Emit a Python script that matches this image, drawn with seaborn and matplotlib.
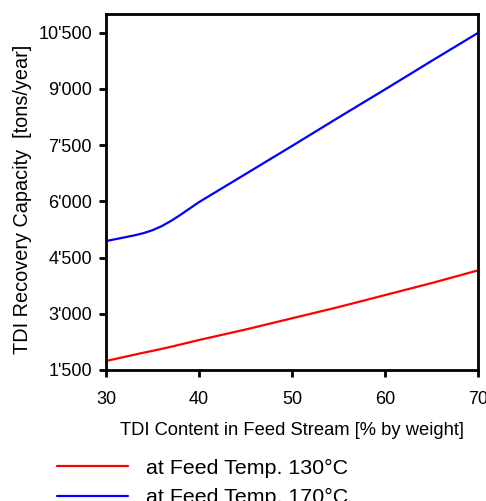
import matplotlib
matplotlib.use('Agg')
import matplotlib.pyplot as plt
from matplotlib.ticker import FuncFormatter
import pandas as pd
import seaborn as sns

# ── Datos ────────────────────────────────────────────────────────
tdi_pct   = [30, 31, 32, 33, 34, 35, 36, 37, 38, 39, 40,
             45, 50, 55, 60, 65, 70]
cap_130   = [1740, 1795, 1850, 1905, 1960, 2010, 2065, 2120, 2180, 2240, 2300,
             2580, 2880, 3180, 3500, 3820, 4160]
cap_170   = [4940, 4990, 5040, 5090, 5150, 5230, 5340, 5480, 5640, 5810, 5980,
             6730, 7480, 8240, 8990, 9750, 10500]
etiquetas = ["at Feed Temp. 130°C", "at Feed Temp. 170°C"]
y_ticks   = [1500, 3000, 4500, 6000, 7500, 9000, 10500]
x_ticks   = [30, 40, 50, 60, 70]

df = pd.concat([
    pd.DataFrame({"x": tdi_pct, "y": cap_130, "serie": etiquetas[0]}),
    pd.DataFrame({"x": tdi_pct, "y": cap_170, "serie": etiquetas[1]}),
])

sns.set_style("ticks")
plt.rcParams['font.family'] = ['Liberation Sans', 'DejaVu Sans']
plt.rcParams['text.color'] = 'black'
plt.rcParams['axes.labelcolor'] = 'black'

fig = plt.figure(figsize=(4.86, 5.01), dpi=100)
ax = fig.add_axes([0.218, 0.2615, 0.766, 0.7105])

sns.lineplot(data=df, x="x", y="y", hue="serie",
             palette={etiquetas[0]: "#ff0000", etiquetas[1]: "#0000ff"},
             linewidth=1.6, ax=ax, legend=False)

ax.set_xlim(30, 70)
ax.set_ylim(1500, 11000)
ax.set_xticks(x_ticks)
ax.set_yticks(y_ticks)
ax.yaxis.set_major_formatter(
    FuncFormatter(lambda v, _: f"{int(v):,}".replace(",", "'")))

for s in ax.spines.values():
    s.set_visible(True)
    s.set_linewidth(2)
    s.set_color("black")
ax.tick_params(axis='both', direction='out', length=5, width=2,
               labelsize=13, colors='black')
ax.tick_params(axis='x', pad=10)
ax.tick_params(axis='y', pad=5)

ax.set_xlabel("TDI Content in Feed Stream [% by weight]", fontsize=13.2,
              labelpad=10)
ax.set_ylabel("TDI Recovery Capacity  [tons/year]", fontsize=14.3)
ax.yaxis.set_label_coords(-0.199, 0.478)

handles = ax.get_lines()[:2]
fig.legend(handles, etiquetas, loc='upper left',
           bbox_to_anchor=(0.096, 0.106), frameon=False, fontsize=15.4,
           handlelength=3.3, handletextpad=0.84, labelspacing=0.5,
           borderpad=0)

fig.savefig("out.png", dpi=100)
